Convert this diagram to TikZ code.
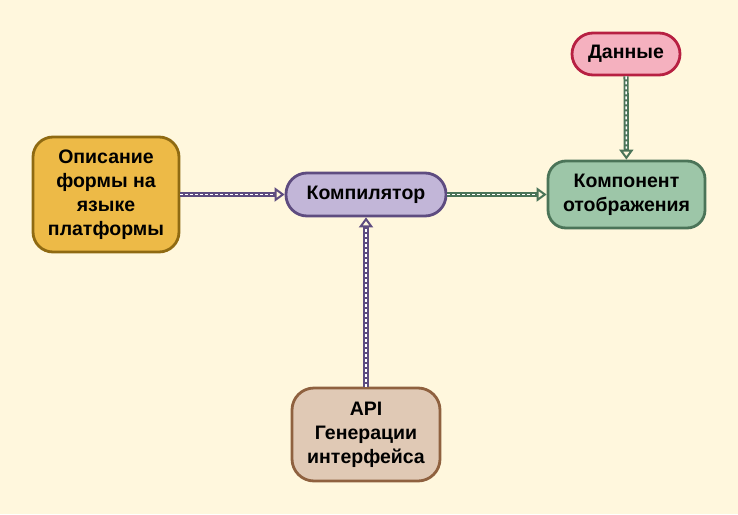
\documentclass[tikz,border=0pt]{standalone}
\usepackage{fontspec}
\setmainfont{Liberation Sans}
\usetikzlibrary{arrows.meta}
\definecolor{bgcol}{HTML}{FFF7DD}
\definecolor{goldfill}{HTML}{EDBA47}
\definecolor{golddraw}{HTML}{8F6A12}
\definecolor{lilafill}{HTML}{C2B6D8}
\definecolor{liladraw}{HTML}{5E4C80}
\definecolor{greenfill}{HTML}{9DC6A8}
\definecolor{greendraw}{HTML}{4B7458}
\definecolor{pinkfill}{HTML}{F5B1BF}
\definecolor{pinkdraw}{HTML}{B72042}
\definecolor{brownfill}{HTML}{E0C9B5}
\definecolor{browndraw}{HTML}{8F613F}
\tikzset{
  box/.style={draw, line width=2.8pt, align=center, inner sep=0pt,
    font=\bfseries\fontsize{19.5}{24}\selectfont},
  flow/.style={line width=5.2pt, -{Triangle[open, length=10pt, width=14pt, line width=2pt]},
    postaction={draw=white, line width=1.5pt, dash pattern=on 3pt off 2pt, -, shorten >=11pt}}
}
\begin{document}
\begin{tikzpicture}[x=1pt, y=-1pt]
      \fill[bgcol] (0, 0) rectangle (738, 514);
      \useasboundingbox (0, 0) rectangle (738, 514);
      % nodes
      \node[box, fill=goldfill, draw=golddraw, rounded corners=20pt,
        minimum width=146pt, minimum height=115pt] (descr) at (106, 194.5)
        {Описание\\формы на\\языке\\платформы};
      \node[box, fill=lilafill, draw=liladraw, rounded corners=21pt,
        minimum width=160pt, minimum height=43pt] (compiler) at (366, 194.5) {Компилятор};
      \node[box, fill=greenfill, draw=greendraw, rounded corners=18pt,
        minimum width=157pt, minimum height=67pt] (view) at (626.5, 194.5)
        {Компонент\\отображения};
      \node[box, fill=pinkfill, draw=pinkdraw, rounded corners=21pt,
        minimum width=108pt, minimum height=42pt] (data) at (626, 54) {Данные};
      \node[box, fill=brownfill, draw=browndraw, rounded corners=22pt,
        minimum width=148pt, minimum height=93pt] (api) at (366, 434.5)
        {API\\Генерации\\интерфейса};
      % lines
      \draw[flow, liladraw] (descr) -- (compiler);
      \draw[flow, liladraw] (api) -- (compiler);
      \draw[flow, greendraw] (compiler) -- (view);
      \draw[flow, greendraw] (data) -- (view);
    \end{tikzpicture}
\end{document}
